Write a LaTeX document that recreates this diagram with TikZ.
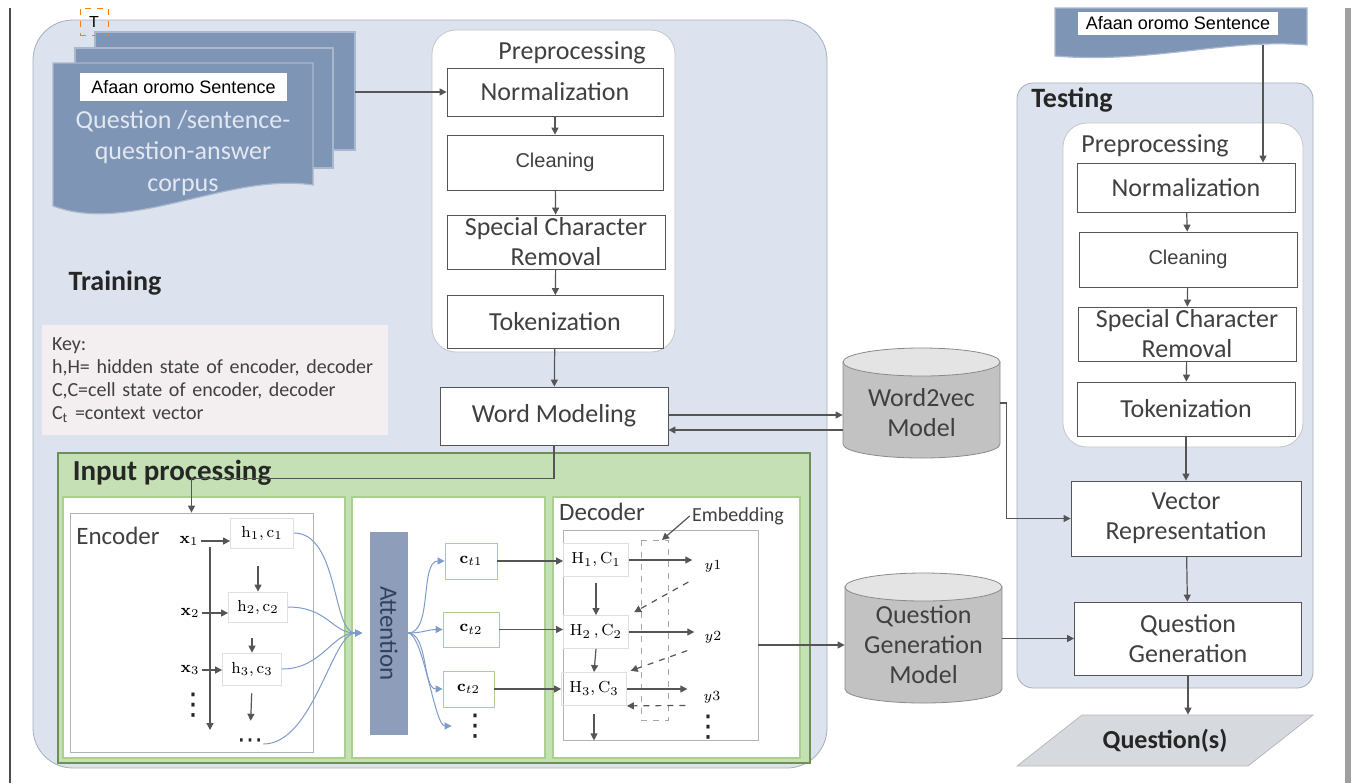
\documentclass[tikz,border=0pt]{standalone}
\usepackage[no-math]{fontspec}
\setmainfont{Carlito}
\newfontfamily\arialfont{Liberation Sans}
\newfontfamily\dotsfont{DejaVu Sans}
\usetikzlibrary{arrows.meta}
\definecolor{trainbg}{HTML}{DCE3EE}
\definecolor{trainline}{HTML}{A4AEBD}
\definecolor{docblue}{HTML}{7F95B5}
\definecolor{docedge}{HTML}{A9B8CE}
\definecolor{doctext}{HTML}{E2E8F1}
\definecolor{greenbg}{HTML}{C5E0B4}
\definecolor{greenline}{HTML}{6E8F55}
\definecolor{panelline}{HTML}{A9D08E}
\definecolor{attfill}{HTML}{8D9DBA}
\definecolor{atttext}{HTML}{34415C}
\definecolor{cylbody}{HTML}{C2C2C2}
\definecolor{cyltop}{HTML}{E4E4E4}
\definecolor{cylline}{HTML}{8A8A8A}
\definecolor{keybg}{HTML}{F3EFF0}
\definecolor{linkblue}{HTML}{7E9CCB}
\definecolor{boxline}{HTML}{555555}
\definecolor{textgray}{HTML}{404040}
\definecolor{headgray}{HTML}{262626}
\definecolor{questfill}{HTML}{D6D9DD}
\begin{document}
\begin{tikzpicture}
  [
    x=0.5pt, y=-0.5pt,
    box/.style={draw=boxline, fill=white, inner sep=0pt, align=center, text=textgray,
      font=\fontsize{13}{15}\selectfont, minimum width=108pt},
    heading/.style={inner sep=1pt, text=headgray, font=\fontsize{14}{16}\selectfont\bfseries},
    subtitle/.style={inner sep=1pt, text=textgray, font=\fontsize{13}{15}\selectfont},
    arrow/.style={draw=boxline, line width=0.6pt, -{Triangle[length=3.5pt,width=3.5pt]}},
    blink/.style={draw=linkblue, line width=0.5pt, -{Triangle[length=3.5pt,width=3.5pt]}},
    dasharrow/.style={arrow, dashed},
    doc/.style={draw=docedge, fill=docblue, line width=0.6pt},
    sentbox/.style={fill=white, inner sep=0pt, font=\arialfont\fontsize{9}{10}\selectfont},
    cylbox/.style={draw=cylline, fill=cylbody},
    cylcap/.style={draw=cylline, fill=cyltop},
    cyltext/.style={align=center, inner sep=0pt, minimum width=78.5pt, text=textgray,
      font=\fontsize{13}{15}\selectfont},
    hstate/.style={draw=gray!25, inner sep=0pt, font=\fontsize{8}{9}\selectfont},
    ctx/.style={draw=panelline, fill=white, inner sep=0pt, font=\fontsize{8}{9}\selectfont},
    sym/.style={inner sep=1pt, font=\fontsize{8}{9}\selectfont},
    vdot/.style={inner sep=0pt, text=headgray, font=\dotsfont\fontsize{15}{15}\selectfont},
    panel/.style={draw=panelline, fill=white, line width=1.2pt}
  ]
  \useasboundingbox (0,0) rectangle (1354,783);
  % page edges
  \draw[gray!60!black, line width=0.7pt] (10,8) -- (10,783);
  \fill[gray!75] (1345,8) rectangle (1351,783);
  % training
  \draw[trainline, fill=trainbg, rounded corners=20pt] (33,20) rectangle (827,768);
  \node[heading] (train) at (115,283) {Training};
  % corpus stack
  \draw[doc] (95,32) rectangle (355,150);
  \draw[doc] (75,48) rectangle (333,168);
  \draw[doc] (53,63) -- (313,63) -- (313,185) .. controls (230,172) and (130,235) .. (53,206) -- cycle;
  \node[sentbox, minimum width=103.5pt, minimum height=14pt] (sent1) at (183.5,87) {Afaan oromo Sentence};
  \node[align=center, text=doctext, font=\fontsize{13}{15.75}\selectfont] (corpus) at (183,153)
    {Question /sentence-\\question-answer\\corpus};
  \node[draw=orange, dashed, inner sep=0pt, minimum width=14pt, minimum height=13.5pt,
    font=\arialfont\fontsize{8}{9}\selectfont] (tmark) at (94,21.5) {T};
  \coordinate (stack) at (355,92);
  % training preprocessing
  \draw[gray!45, fill=white, rounded corners=12pt] (432,30) rectangle (675,352);
  \node[subtitle] (pre1) at (572,53) {Preprocessing};
  \node[box, minimum height=24pt] (norm1) at (555,92) {Normalization};
  \node[box, minimum height=27.5pt, font=\arialfont\fontsize{10}{11}\selectfont] (clean1) at (555,162.5) {Cleaning};
  \node[box, minimum width=109pt, minimum height=27pt] (spec1) at (556,242) {Special Character\\Removal};
  \node[box, minimum height=26.5pt] (tok1) at (555,322) {Tokenization};
  \node[box, minimum width=114pt, minimum height=29pt] (wm) at (554,416) {Word Modeling};
  \draw[arrow] (stack) -- (norm1.west);
  \draw[arrow] (norm1) -- (clean1);
  \draw[arrow] (clean1) -- (spec1);
  \draw[arrow] (spec1) -- (tok1);
  \draw[arrow] (tok1) -- (wm);
  % key
  \node[fill=keybg, text width=163pt, minimum height=55pt, align=left, inner xsep=5pt,
    text=textgray, font=\fontsize{10}{11.5}\selectfont] (key) at (215,380)
    {Key:\\h,H= hidden state of encoder, decoder\\C,C=cell state of encoder, decoder\\C\textsubscript{t} =context vector};
  % word2vec
  \draw[cylbox] (843,362) -- (843,444) arc[start angle=180, end angle=360, x radius=39.25pt, y radius=7pt]
    -- (1000,362) -- cycle;
  \draw[cylcap] (921.5,362) ellipse[x radius=39.25pt, y radius=7pt];
  \node[cyltext, minimum height=55pt] (w2v) at (921.5,413) {Word2vec\\Model};
  \draw[arrow] ([yshift=0.5pt]wm.east) -- ([yshift=-1pt]w2v.west);
  \draw[arrow] ([yshift=-8.5pt]w2v.west) -- ([yshift=-7pt]wm.east);
  % input processing
  \draw[greenline, fill=greenbg, line width=0.8pt] (58,453) rectangle (810,763);
  \node[heading, font=\fontsize{14.5}{16}\selectfont\bfseries] (inproc) at (172,473) {Input processing};
  \draw[panel] (63,497) rectangle (345,758);
  \draw[panel] (352,497) rectangle (545,758);
  \draw[panel] (553,497) rectangle (800,758);
  % encoder
  \node[draw=gray!60, minimum width=121.5pt, minimum height=119.5pt] (encbox) at (191.5,632.5) {};
  \node[subtitle, font=\fontsize{12.5}{14}\selectfont] (enc) at (118,536) {Encoder};
  \draw[arrow] (wm.south) -- ++(0,33) -| (encbox.north);
  \node[sym] (x1) at (189,541) {$\mathbf{x}_1$};
  \node[sym] (x2) at (190,613) {$\mathbf{x}_2$};
  \node[sym] (x3) at (190,670) {$\mathbf{x}_3$};
  \node[vdot] (vdenc) at (193,705) {⋮};
  \node[hstate, minimum width=31.5pt, minimum height=15pt] (hc1) at (262,533) {$\mathrm{h}_1, \mathrm{c}_1$};
  \node[hstate, minimum width=29.5pt, minimum height=15pt] (hc2) at (258,607) {$\mathrm{h}_2, \mathrm{c}_2$};
  \node[hstate, minimum width=29.5pt, minimum height=16pt] (hc3) at (252,669) {$\mathrm{h}_3, \mathrm{c}_3$};
  \node[vdot, font=\dotsfont\fontsize{13}{13}\selectfont] (dotsenc) at (250,744) {⋯};
  \coordinate (spinetop) at (210,547);
  \coordinate (spinebot) at (210,730);
  \draw[arrow] (spinetop) -- (spinebot);
  \draw[arrow] (x1.east) -- (x1.east -| hc1.west);
  \draw[arrow] (x2.east) -- (x2.east -| hc2.west);
  \draw[arrow] (x3.east) -- (x3.east -| hc3.west);
  \draw[arrow, shorten <=9pt] (hc1.south -| hc2.north) -- (hc2.north);
  \draw[arrow, shorten <=8pt] (hc2.south -| hc3.north) -- (hc3.north);
  \draw[arrow, shorten <=4pt, shorten >=9pt] (hc3.south) -- (dotsenc.north);
  % attention
  \node[fill=attfill, rotate=-90, minimum width=101.5pt, minimum height=19pt, inner sep=0pt,
    text=atttext, font=\fontsize{12.5}{14}\selectfont] (att) at (389,633.5) {Attention};
  \coordinate (attin) at (362,633);
  \coordinate (attout) at (408,633);
  \draw[blink] (hc1.east) .. controls +(45,0) and +(-30,0) .. (attin);
  \draw[blink] (hc2.east) .. controls +(40,0) and +(-30,0) .. (attin);
  \draw[blink] (hc3.east) .. controls +(40,0) and +(-30,0) .. (attin);
  \draw[blink] (dotsenc.east) .. controls +(50,0) and +(-30,0) .. (attin);
  \node[ctx, minimum width=26pt, minimum height=18pt] (ct1) at (471,561) {$\mathbf{c}_{t1}$};
  \node[ctx, minimum width=28pt, minimum height=17.5pt] (ct2) at (471,629.5) {$\mathbf{c}_{t2}$};
  \node[ctx, minimum width=25.5pt, minimum height=18pt] (ct3) at (468.5,689) {$\mathbf{c}_{t2}$};
  \node[vdot] (vdatt) at (475,726) {⋮};
  \draw[blink] (attout) .. controls +(25,0) and +(-25,0) .. (ct1.west);
  \draw[blink] (attout) .. controls +(15,0) and +(-15,0) .. (ct2.west);
  \draw[blink] (attout) .. controls +(20,0) and +(-20,0) .. (ct3.west);
  \draw[blink, shorten >=4pt] (attout) .. controls +(15,0) and +(-25,0) .. (vdatt.west);
  % decoder
  \node[draw=gray!60, minimum width=97.5pt, minimum height=105pt] (decbox) at (660.5,635) {};
  \node[subtitle, font=\fontsize{12.5}{14}\selectfont] (dec) at (602,512) {Decoder};
  \node[subtitle, font=\fontsize{10}{12}\selectfont] (embed) at (738,516) {Embedding};
  \draw[gray!70, dashed] (641,540) rectangle (668,720);
  \coordinate (embtop) at (662,540);
  \draw[arrow] (embed.west) -- (embtop);
  \node[hstate, minimum width=32.5pt, minimum height=16.5pt] (hd1) at (596,560) {$\mathrm{H}_1, \mathrm{C}_1$};
  \node[hstate, minimum width=32.5pt, minimum height=16.5pt] (hd2) at (596,632) {$\mathrm{H}_2\,, \mathrm{C}_2$};
  \node[hstate, minimum width=32.5pt, minimum height=16.5pt] (hd3) at (594,689) {$\mathrm{H}_3, \mathrm{C}_3$};
  \node[sym, font=\fontsize{7.5}{9}\selectfont] (y1) at (713,566) {$y1$};
  \node[sym, font=\fontsize{7.5}{9}\selectfont] (y2) at (713,637) {$y2$};
  \node[sym, font=\fontsize{7.5}{9}\selectfont] (y3) at (712,697) {$y3$};
  \node[vdot] (vddec) at (708,727) {⋮};
  \draw[arrow] (ct1.east) -- (ct1.east -| hd1.west);
  \draw[arrow] (ct2.east) -- (ct2.east -| hd2.west);
  \draw[arrow] (ct3.east) -- (ct3.east -| hd3.west);
  \draw[arrow, shorten >=5pt] (hd1.east) -- (hd1.east -| y1.west);
  \draw[arrow, shorten >=4pt] (hd2.east) -- (hd2.east -| y2.west);
  \draw[arrow, shorten >=7pt] (hd3.east) -- (hd3.east -| y3.west);
  \draw[arrow, shorten <=3pt] (hd1.south) -- (hd2.north);
  \draw[arrow] (hd2.south) -- (hd3.north);
  \draw[arrow, shorten <=4pt] (hd3.south) -- (hd3.south |- decbox.south);
  \draw[dasharrow, shorten <=8pt, shorten >=3pt] (y1.south west) -- (hd2.north east);
  \draw[dasharrow, shorten <=8pt, shorten >=2pt] (y2.south west) -- (hd3.north east);
  \draw[dasharrow, shorten <=8pt] (y3.south west) -- (hd3.south east);
  % question generation model
  \draw[cylbox] (845,587) -- (845,689) arc[start angle=180, end angle=360, x radius=39.25pt, y radius=7pt]
    -- (1002,587) -- cycle;
  \draw[cylcap] (923.5,587) ellipse[x radius=39.25pt, y radius=7pt];
  \node[cyltext, minimum height=60pt] (qg) at (923.5,645) {Question\\Generation\\Model};
  \draw[arrow] (decbox.east |- qg.west) -- (qg.west);
  % testing
  \draw[trainline, fill=trainbg, rounded corners=8pt] (1017,83) rectangle (1313,688);
  \node[heading] (test) at (1072,100) {Testing};
  \draw[gray!45, fill=white, rounded corners=12pt] (1063,123) rectangle (1303,447);
  \node[subtitle] (pre2) at (1155,146) {Preprocessing};
  \node[box, minimum width=109pt, minimum height=24.5pt] (norm2) at (1186,187.5) {Normalization};
  \node[box, minimum width=109pt, minimum height=27.5pt, font=\arialfont\fontsize{10}{11}\selectfont] (clean2) at (1188,259.5) {Cleaning};
  \node[box, minimum width=109pt, minimum height=27pt] (spec2) at (1187,334) {Special Character\\Removal};
  \node[box, minimum width=109pt, minimum height=27pt] (tok2) at (1186,409) {Tokenization};
  \node[box, minimum width=115pt, minimum height=37.5pt] (vec) at (1186,518.5) {Vector\\Representation};
  \node[box, minimum width=113.5pt, minimum height=36.5pt] (qgen) at (1188,638.5) {Question\\Generation};
  \draw[arrow] (norm2) -- (clean2);
  \draw[arrow] (clean2) -- (spec2);
  \draw[arrow] (spec2) -- (tok2);
  \draw[arrow] (tok2) -- (vec);
  \draw[arrow] (vec) -- (qgen);
  \draw[arrow] ([yshift=5pt]w2v.east) -- ++(6,0) |- (vec.west);
  \draw[arrow] ([yshift=3.25pt]qg.east) -- (qgen.west);
  % test sentence
  \draw[doc] (1055,8) -- (1307,8) -- (1307,45) .. controls (1230,38) and (1150,64) .. (1055,56) -- cycle;
  \node[sentbox, minimum width=100pt, minimum height=11.5pt] (sent2) at (1178,23.5) {Afaan oromo Sentence};
  \coordinate (docr) at (1263,45);
  \draw[arrow] (docr) -- (docr |- norm2.north);
  % output
  \draw[gray!55, fill=questfill] (1017,766) -- (1082,715) -- (1313,715) -- (1248,766) -- cycle;
  \node[heading, font=\fontsize{13}{15}\selectfont\bfseries, minimum height=25.5pt, inner sep=0pt] (quest) at (1165,740.5) {Question(s)};
  \draw[arrow] (qgen.south) -- (qgen.south |- quest.north);
\end{tikzpicture}
\end{document}
